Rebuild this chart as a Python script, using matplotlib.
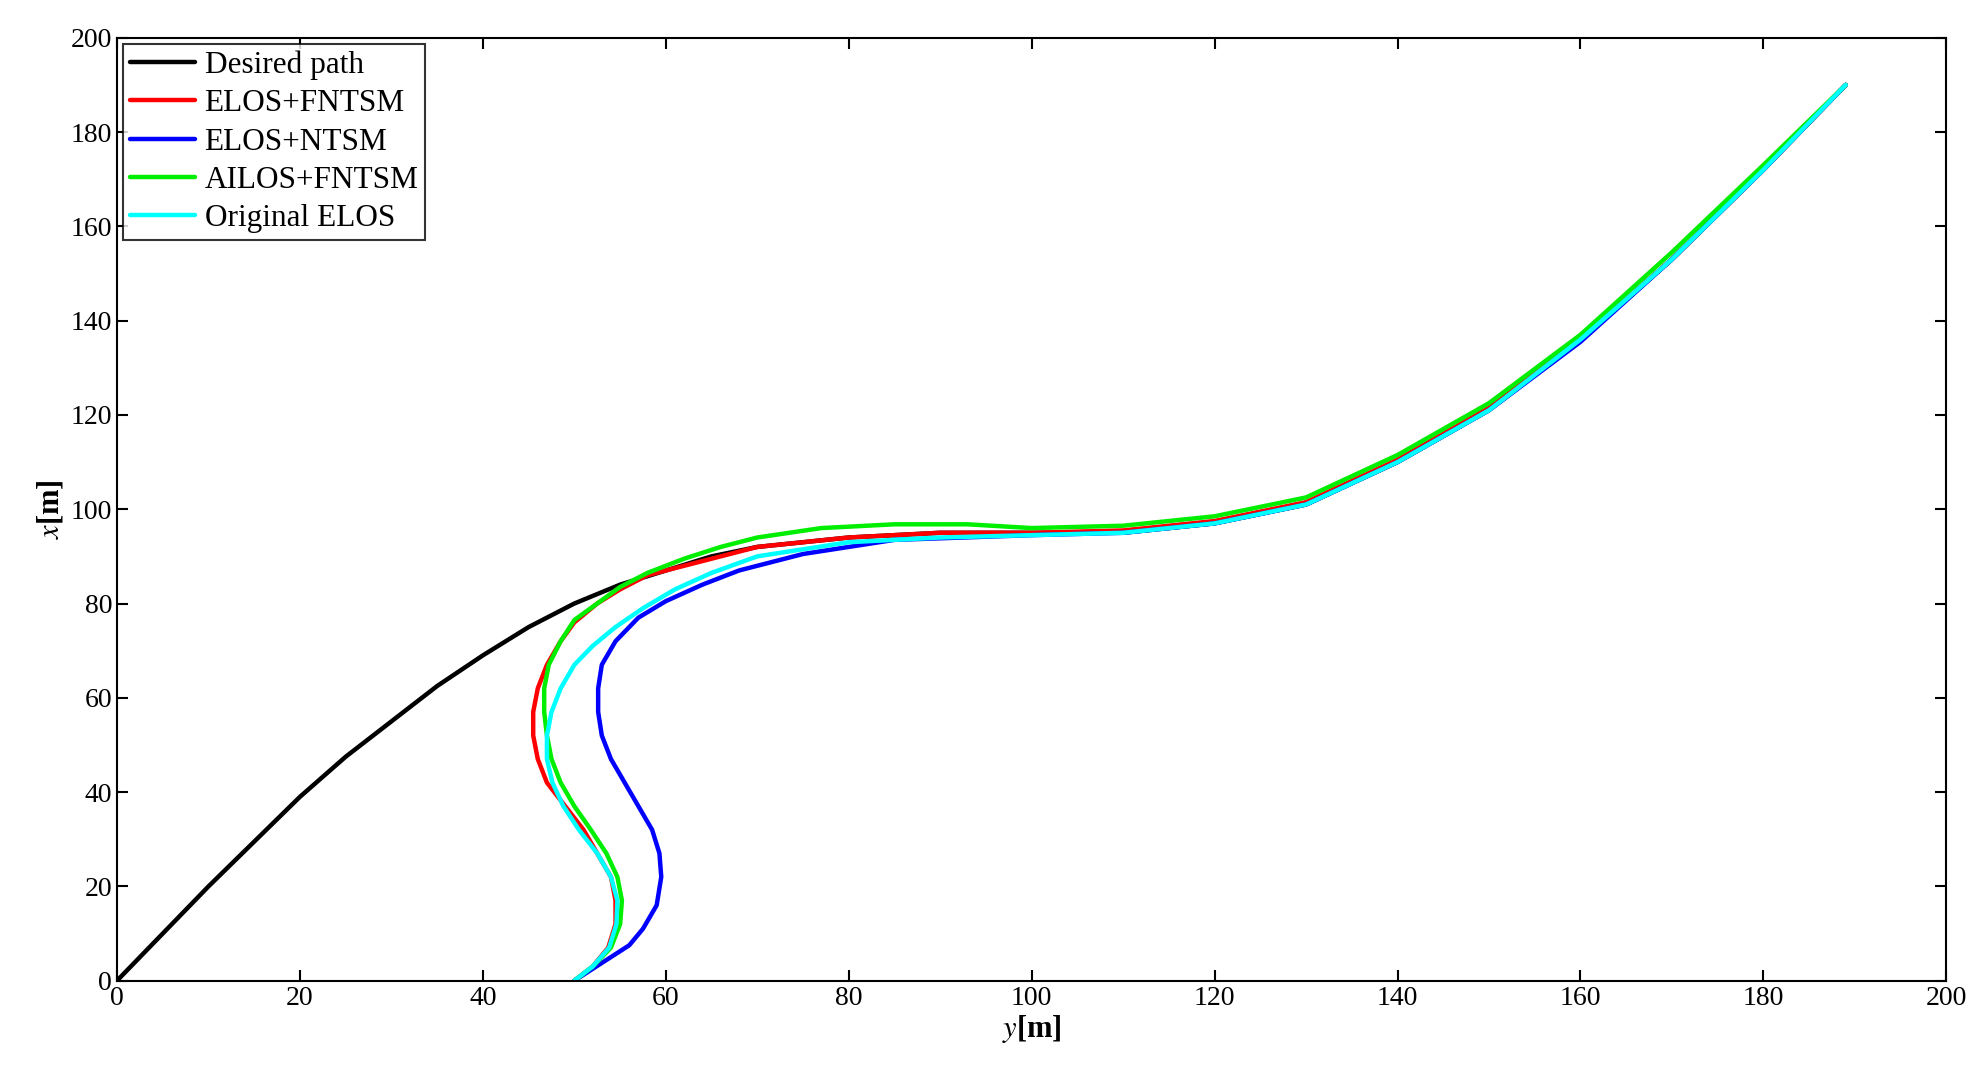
import matplotlib
matplotlib.use('Agg')
import matplotlib.pyplot as plt

plt.rcParams['font.family'] = ['Liberation Serif', 'DejaVu Serif']
plt.rcParams['mathtext.fontset'] = 'stix'

des_y = [0, 5, 10, 15, 20, 25, 30, 35, 40, 45, 50, 55, 60, 65, 70, 80, 90, 100, 110, 120, 130, 140, 150, 160, 170, 180, 189]
des_x = [0, 10, 20, 29.5, 39, 47.5, 55, 62.5, 69, 75, 80, 84, 87, 90, 92, 94, 95, 95, 95, 97, 101, 110, 121, 136, 153, 172, 190]

red_y = [50, 52, 53.7, 54.5, 54.5, 54, 52.5, 51, 49, 47, 46, 45.5, 45.5, 46, 47, 48.5, 50, 52.5, 55, 58, 62, 66, 70, 80, 90, 100, 110, 120, 130, 140, 150, 160, 170, 180, 189]
red_x = [0, 3, 7, 12, 17, 22, 27, 32, 37, 42, 47, 52, 57, 62, 67, 72, 76, 80, 83, 86, 88, 90, 92, 94, 95, 95, 95.5, 97.5, 101.5, 110.5, 121.5, 136, 153, 172, 190]

blue_y = [50, 52, 54, 56, 57.5, 59, 59.5, 59.3, 58.5, 57, 55.5, 54, 53, 52.6, 52.6, 53, 54.5, 57, 60, 64, 68, 75, 85, 100, 110, 120, 130, 140, 150, 160, 170, 180, 189]
blue_x = [0, 2.5, 5, 7.5, 11, 16, 22, 27, 32, 37, 42, 47, 52, 57, 62, 67, 72, 77, 80.5, 84, 87, 90.5, 93.5, 94.5, 95, 97, 101, 110, 121, 135.5, 153, 172, 190]

green_y = [50, 52, 54, 55, 55.2, 54.7, 53.5, 51.8, 50, 48.5, 47.5, 47, 46.7, 46.7, 47.2, 48.5, 50, 52.5, 55, 58, 62, 66, 70, 77, 85, 93, 100, 110, 120, 130, 140, 150, 160, 170, 180, 189]
green_x = [0, 3, 7, 12, 17, 22, 27, 32, 37, 42, 47, 52, 57, 62, 67, 72, 76.5, 80, 83.5, 86.5, 89.5, 92, 94, 96, 96.8, 96.8, 96, 96.5, 98.5, 102.5, 111.5, 122.5, 137, 154.5, 173, 190]

cyan_y = [50, 52, 53.8, 54.6, 54.7, 54, 52.5, 50.5, 48.8, 47.6, 47, 47, 47.5, 48.5, 50, 52, 54.5, 57.5, 61, 65, 70, 80, 90, 100, 110, 120, 130, 140, 150, 160, 170, 180, 189]
cyan_x = [0, 3, 7, 12, 17, 22, 27, 32, 37, 42, 47, 52, 57, 62, 67, 71, 75, 79, 83, 86.5, 90, 93, 94, 94.5, 95, 97, 101, 110, 121, 136, 153, 172, 190]

fig = plt.figure(figsize=(19.84, 10.8), dpi=100)
ax = fig.add_axes([0.059, 0.092, 0.922, 0.873])
lw = 3.2
kw = dict(lw=lw, solid_joinstyle='round', solid_capstyle='round')
ax.plot(des_y, des_x, color='black', label='Desired path', **kw)
ax.plot(red_y, red_x, color='red', label='ELOS+FNTSM', **kw)
ax.plot(blue_y, blue_x, color='blue', label='ELOS+NTSM', **kw)
ax.plot(green_y, green_x, color='#00ee00', label='AILOS+FNTSM', **kw)
ax.plot(cyan_y, cyan_x, color='cyan', label='Original ELOS', **kw)
ax.set_xlim(0, 200)
ax.set_ylim(0, 200)
ax.set_xticks(range(0, 201, 20))
ax.set_yticks(range(0, 201, 20))
ax.tick_params(direction='in', top=True, right=True, labelsize=20, length=8, width=1.5)
for s in ax.spines.values():
    s.set_linewidth(1.5)
ax.set_xlabel(r'$\mathit{y}$[m]', fontsize=22, fontweight='bold', labelpad=2)
ax.set_ylabel(r'$\mathit{x}$[m]', fontsize=22, fontweight='bold', labelpad=4)
leg = ax.legend(loc='upper left', fontsize=22.5, frameon=True, fancybox=False, edgecolor='black',
                handlelength=2.1, borderpad=0.2, labelspacing=0.3, borderaxespad=0.2, handletextpad=0.3)
leg.get_frame().set_linewidth(1.5)
fig.savefig('out.png', dpi=100)
